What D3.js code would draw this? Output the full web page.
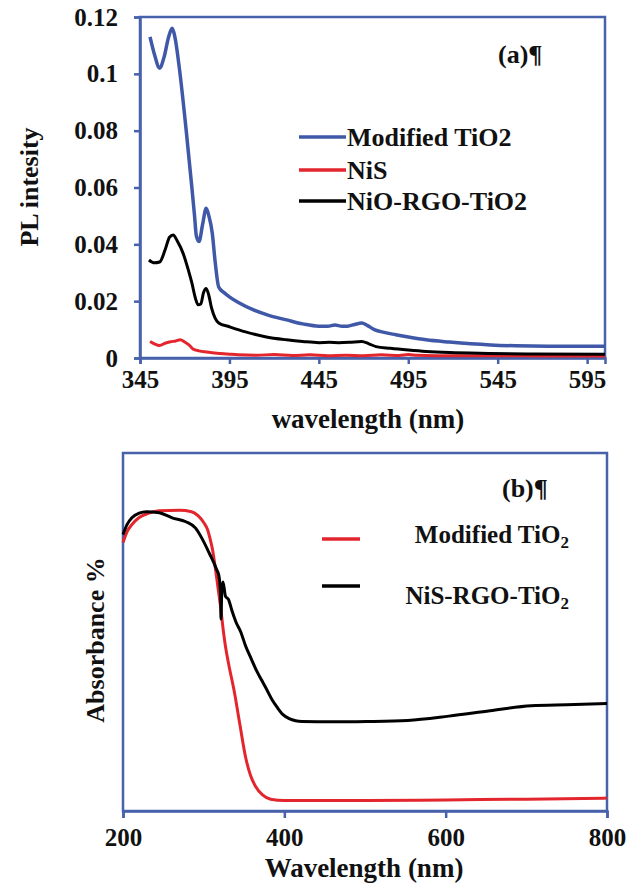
<!DOCTYPE html>
<html>
<head>
<meta charset="utf-8">
<script src="https://cdn.jsdelivr.net/npm/d3@7"></script>
<style>
  body { margin: 0; background: #fff; }
</style>
</head>
<body>
<svg id="chart" width="638" height="884"></svg>
<script>
// ---- panel (a): PL spectra [wavelength nm, intensity]
const plModified = [[350.6,0.113],[353,0.107],[356,0.102],[358.5,0.106],[361,0.113],[363,0.116],[364.5,0.113],[367,0.102],[371,0.079],[374,0.060],[375.5,0.050],[376.5,0.043],[378,0.041],[380,0.047],[382,0.0527],[383.5,0.050],[385.4,0.044],[387,0.034],[389,0.025],[392,0.023],[395,0.0215],[400,0.0195],[408.5,0.0169],[417,0.0150],[427,0.0134],[436,0.0120],[445,0.0112],[450,0.0112],[454,0.0116],[458,0.0112],[461,0.0112],[465,0.0118],[469,0.0123],[472,0.0115],[476,0.0100],[481.5,0.0090],[488,0.0082],[495,0.0074],[505,0.0064],[518,0.0056],[530,0.0050],[541,0.0046],[555,0.0043],[564,0.0042],[580,0.0041],[605,0.0041]];
const plNiS = [[350.6,0.0058],[353,0.0050],[356,0.0044],[359,0.0052],[362,0.0057],[365,0.0060],[367.5,0.0064],[370,0.0056],[372.5,0.0045],[374.6,0.0032],[378,0.0025],[382.5,0.0021],[388,0.0017],[394,0.0014],[400,0.0011],[410,0.0010],[420,0.0012],[430,0.0009],[440,0.0011],[450,0.0008],[460,0.0010],[470,0.0008],[480,0.0011],[490,0.0009],[495,0.0012],[500,0.0010],[520,0.0008],[545,0.0008],[570,0.0007],[605,0.0007]];
const plNiORGO = [[350,0.0345],[353,0.0335],[356,0.0338],[359,0.038],[361.5,0.0425],[363.5,0.0433],[366,0.041],[369,0.037],[372,0.031],[374,0.0264],[376,0.021],[377.5,0.0187],[379,0.019],[380.5,0.023],[382,0.0245],[383.5,0.022],[385,0.0176],[387,0.014],[389,0.0123],[395,0.011],[404,0.0092],[415,0.0075],[427,0.0064],[436,0.0058],[445,0.0054],[451,0.0055],[456,0.0054],[462,0.0055],[469,0.0058],[473,0.0050],[477,0.0040],[485,0.0034],[495,0.0028],[505,0.0023],[518,0.0019],[540,0.0016],[564,0.0014],[605,0.0013]];
const plXTicks = [345,395,445,495,545,595];
const plYTicks = [0,0.02,0.04,0.06,0.08,0.1,0.12];
const plNames = ["Modified TiO2","NiS","NiO-RGO-TiO2"];

// ---- panel (b): absorbance (relative units, no y scale shown)
const absModified = [[200,0.75],[205,0.78],[211,0.80],[220,0.82],[232,0.832],[245,0.839],[270,0.84],[285,0.836],[293,0.825],[300,0.806],[305,0.785],[308,0.76],[311,0.73],[315,0.67],[318,0.62],[321,0.57],[324,0.51],[327,0.46],[331,0.41],[338,0.333],[345,0.24],[352,0.15],[358,0.10],[364,0.07],[373,0.045],[383,0.033],[400,0.029],[500,0.029],[600,0.031],[700,0.033],[800,0.036]];
const absNiSRGO = [[200,0.772],[205,0.80],[211,0.819],[220,0.832],[229,0.836],[245,0.833],[261,0.819],[278,0.808],[290,0.79],[297,0.765],[307,0.72],[316,0.675],[319,0.656],[321,0.60],[321.5,0.536],[322.5,0.62],[324,0.64],[327,0.60],[331,0.59],[335,0.56],[340,0.528],[346,0.50],[352,0.461],[359,0.425],[366,0.39],[372,0.365],[378,0.34],[385,0.31],[391,0.29],[398,0.27],[406,0.258],[414,0.252],[422,0.25],[460,0.249],[502,0.25],[553,0.253],[604,0.265],[655,0.28],[706,0.294],[750,0.297],[800,0.30]];
const absXTicks = [200,400,600,800];

const axisColor = "#4762ab";
const serif = "Liberation Serif";
const svg = d3.select("#chart");

function frame(g, x, y, w, h){
	g.append("rect")
		.attr("x", x).attr("y", y)
		.attr("width", w).attr("height", h)
		.attr("fill", "none")
		.attr("stroke", axisColor)
		.attr("stroke-width", 2.5);
}

function styleAxis(sel){
	sel.attr("font-family", serif).attr("font-weight", "bold");
	sel.select(".domain").attr("stroke", axisColor).attr("stroke-width", 2.5);
	sel.selectAll(".tick line").attr("stroke", axisColor).attr("stroke-width", 2.5);
	sel.selectAll(".tick text").attr("font-size", 25).attr("fill", "#111");
}

function label(g, x, y, str, size){
	return g.append("text").attr("x", x).attr("y", y)
		.attr("font-family", serif).attr("font-weight", "bold")
		.attr("font-size", size).attr("fill", "#111").text(str);
}

// ================= panel (a)
const a = {left:140, right:605, top:17, bottom:358};
const xa = d3.scaleLinear().domain([345,605]).range([a.left, a.right]);
const ya = d3.scaleLinear().domain([0,0.12]).range([a.bottom, a.top]);
const ga = svg.append("g");

frame(ga, a.left, a.top, a.right-a.left, a.bottom-a.top);

ga.append("g")
	.attr("transform", `translate(0,${a.bottom})`)
	.call(d3.axisBottom(xa).tickValues(plXTicks).tickSize(6).tickPadding(6).tickFormat(d3.format("d")))
	.call(styleAxis);

ga.append("g")
	.attr("transform", `translate(${a.left},0)`)
	.call(d3.axisLeft(ya).tickValues(plYTicks).tickSize(6).tickPadding(16).tickFormat(d => d === 0 ? "0" : d3.format("~g")(d)))
	.call(styleAxis);

const lineA = d3.line().x(d => xa(d[0])).y(d => ya(d[1])).curve(d3.curveMonotoneX);
const seriesA = [
	{data: plNiS, color: "#e3262d", w: 3},
	{data: plNiORGO, color: "#000", w: 3},
	{data: plModified, color: "#3f58a8", w: 3.5}
];
seriesA.forEach(s => {
	ga.append("path").attr("d", lineA(s.data))
		.attr("fill", "none").attr("stroke", s.color)
		.attr("stroke-width", s.w).attr("stroke-linejoin", "round");
});

label(ga, 498, 63, "(a)¶", 26);

const legA = [{c:"#3f58a8", y:137}, {c:"#e3262d", y:170}, {c:"#000", y:201}];
legA.forEach((l, i) => {
	ga.append("line").attr("x1", 299).attr("x2", 346).attr("y1", l.y).attr("y2", l.y)
		.attr("stroke", l.c).attr("stroke-width", 3.5);
	label(ga, 347, l.y + 9, plNames[i], 26);
});

label(ga, 368, 428, "wavelength (nm)", 27).attr("text-anchor", "middle");
label(ga, 0, 0, "PL intesity", 26).attr("text-anchor", "middle")
	.attr("transform", "translate(38,187) rotate(-90)");

// ================= panel (b)
const b = {left:123, right:607, top:453, bottom:811};
const xb = d3.scaleLinear().domain([200,800]).range([b.left, b.right]);
const yb = d3.scaleLinear().domain([0,1]).range([b.bottom, b.top]);
const gb = svg.append("g");

frame(gb, b.left, b.top, b.right-b.left, b.bottom-b.top);

gb.append("g")
	.attr("transform", `translate(0,${b.bottom})`)
	.call(d3.axisBottom(xb).tickValues(absXTicks).tickSize(7).tickPadding(10).tickFormat(d3.format("d")))
	.call(styleAxis);

const lineB = d3.line().x(d => xb(d[0])).y(d => yb(d[1])).curve(d3.curveMonotoneX);
gb.append("path").attr("d", lineB(absModified))
	.attr("fill", "none").attr("stroke", "#e3262d").attr("stroke-width", 3);
gb.append("path").attr("d", lineB(absNiSRGO))
	.attr("fill", "none").attr("stroke", "#000").attr("stroke-width", 3);

label(gb, 502, 497, "(b)¶", 26);

const legB = [{c:"#e3262d", y:539, name:"Modified TiO"}, {c:"#000", y:586, name:"NiS-RGO-TiO"}];
legB.forEach((l, i) => {
	gb.append("line").attr("x1", 322).attr("x2", 360).attr("y1", l.y).attr("y2", l.y)
		.attr("stroke", l.c).attr("stroke-width", 3.5);
	const t = label(gb, 569, l.y + (i === 0 ? 4 : 18), null, 25).attr("text-anchor", "end");
	t.append("tspan").text(l.name);
	t.append("tspan").attr("dy", 5).attr("font-size", 17).text("2");
});

label(gb, 364, 877, "Wavelength (nm)", 27).attr("text-anchor", "middle");
label(gb, 0, 0, "Absorbance %", 26).attr("text-anchor", "middle")
	.attr("transform", "translate(104,640) rotate(-90)");
</script>
</body>
</html>
